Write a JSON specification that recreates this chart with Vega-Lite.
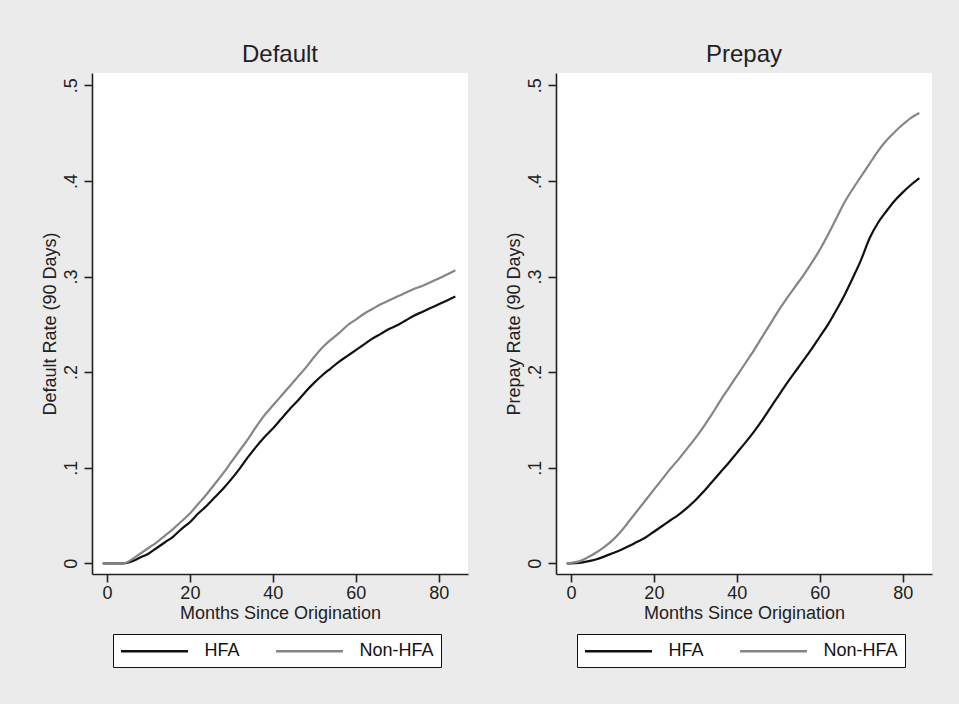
{
  "$schema": "https://vega.github.io/schema/vega-lite/v6.json",
  "background": "#ebebeb",
  "padding": {"left": 41, "top": 43, "right": 27, "bottom": 36},
  "spacing": 88,
  "bounds": "flush",
  "datasets": {
    "default": [
      {"month": -1, "HFA": 0, "Non-HFA": 0},
      {"month": 0, "HFA": 0, "Non-HFA": 0},
      {"month": 2, "HFA": 0, "Non-HFA": 0},
      {"month": 4, "HFA": 0, "Non-HFA": 0},
      {"month": 6, "HFA": 0.002, "Non-HFA": 0.004},
      {"month": 8, "HFA": 0.006, "Non-HFA": 0.010},
      {"month": 10, "HFA": 0.010, "Non-HFA": 0.016},
      {"month": 12, "HFA": 0.016, "Non-HFA": 0.022},
      {"month": 14, "HFA": 0.022, "Non-HFA": 0.029},
      {"month": 16, "HFA": 0.028, "Non-HFA": 0.036},
      {"month": 18, "HFA": 0.036, "Non-HFA": 0.044},
      {"month": 20, "HFA": 0.043, "Non-HFA": 0.052},
      {"month": 22, "HFA": 0.052, "Non-HFA": 0.062},
      {"month": 24, "HFA": 0.060, "Non-HFA": 0.072},
      {"month": 26, "HFA": 0.069, "Non-HFA": 0.083},
      {"month": 28, "HFA": 0.078, "Non-HFA": 0.094},
      {"month": 30, "HFA": 0.088, "Non-HFA": 0.106},
      {"month": 32, "HFA": 0.099, "Non-HFA": 0.118},
      {"month": 34, "HFA": 0.111, "Non-HFA": 0.130},
      {"month": 36, "HFA": 0.122, "Non-HFA": 0.143},
      {"month": 38, "HFA": 0.132, "Non-HFA": 0.155},
      {"month": 40, "HFA": 0.141, "Non-HFA": 0.165},
      {"month": 42, "HFA": 0.151, "Non-HFA": 0.175},
      {"month": 44, "HFA": 0.161, "Non-HFA": 0.185},
      {"month": 46, "HFA": 0.170, "Non-HFA": 0.195},
      {"month": 48, "HFA": 0.180, "Non-HFA": 0.205},
      {"month": 50, "HFA": 0.189, "Non-HFA": 0.216},
      {"month": 52, "HFA": 0.197, "Non-HFA": 0.226},
      {"month": 54, "HFA": 0.204, "Non-HFA": 0.234},
      {"month": 56, "HFA": 0.211, "Non-HFA": 0.241},
      {"month": 58, "HFA": 0.217, "Non-HFA": 0.249},
      {"month": 60, "HFA": 0.223, "Non-HFA": 0.255},
      {"month": 62, "HFA": 0.229, "Non-HFA": 0.261},
      {"month": 64, "HFA": 0.235, "Non-HFA": 0.266},
      {"month": 66, "HFA": 0.240, "Non-HFA": 0.271},
      {"month": 68, "HFA": 0.245, "Non-HFA": 0.275},
      {"month": 70, "HFA": 0.249, "Non-HFA": 0.279},
      {"month": 72, "HFA": 0.254, "Non-HFA": 0.283},
      {"month": 74, "HFA": 0.259, "Non-HFA": 0.287},
      {"month": 76, "HFA": 0.263, "Non-HFA": 0.290},
      {"month": 78, "HFA": 0.267, "Non-HFA": 0.294},
      {"month": 80, "HFA": 0.271, "Non-HFA": 0.298},
      {"month": 82, "HFA": 0.275, "Non-HFA": 0.302},
      {"month": 84, "HFA": 0.279, "Non-HFA": 0.3065}
    ],
    "prepay": [
      {"month": -1, "HFA": 0, "Non-HFA": 0},
      {"month": 0, "HFA": 0, "Non-HFA": 0.0005},
      {"month": 2, "HFA": 0.0005, "Non-HFA": 0.002},
      {"month": 4, "HFA": 0.002, "Non-HFA": 0.006},
      {"month": 6, "HFA": 0.004, "Non-HFA": 0.011},
      {"month": 8, "HFA": 0.007, "Non-HFA": 0.017},
      {"month": 10, "HFA": 0.0105, "Non-HFA": 0.024},
      {"month": 12, "HFA": 0.014, "Non-HFA": 0.033},
      {"month": 14, "HFA": 0.018, "Non-HFA": 0.044},
      {"month": 16, "HFA": 0.0225, "Non-HFA": 0.055},
      {"month": 18, "HFA": 0.027, "Non-HFA": 0.066},
      {"month": 20, "HFA": 0.033, "Non-HFA": 0.077},
      {"month": 22, "HFA": 0.039, "Non-HFA": 0.088},
      {"month": 24, "HFA": 0.045, "Non-HFA": 0.099},
      {"month": 26, "HFA": 0.051, "Non-HFA": 0.109},
      {"month": 28, "HFA": 0.058, "Non-HFA": 0.120},
      {"month": 30, "HFA": 0.066, "Non-HFA": 0.131},
      {"month": 32, "HFA": 0.075, "Non-HFA": 0.143},
      {"month": 34, "HFA": 0.085, "Non-HFA": 0.156},
      {"month": 36, "HFA": 0.095, "Non-HFA": 0.170},
      {"month": 38, "HFA": 0.105, "Non-HFA": 0.183},
      {"month": 40, "HFA": 0.1155, "Non-HFA": 0.196},
      {"month": 42, "HFA": 0.126, "Non-HFA": 0.209},
      {"month": 44, "HFA": 0.137, "Non-HFA": 0.222},
      {"month": 46, "HFA": 0.149, "Non-HFA": 0.236},
      {"month": 48, "HFA": 0.162, "Non-HFA": 0.250},
      {"month": 50, "HFA": 0.175, "Non-HFA": 0.264},
      {"month": 52, "HFA": 0.188, "Non-HFA": 0.277},
      {"month": 54, "HFA": 0.200, "Non-HFA": 0.289},
      {"month": 56, "HFA": 0.212, "Non-HFA": 0.301},
      {"month": 58, "HFA": 0.224, "Non-HFA": 0.314},
      {"month": 60, "HFA": 0.237, "Non-HFA": 0.328},
      {"month": 62, "HFA": 0.250, "Non-HFA": 0.344},
      {"month": 64, "HFA": 0.265, "Non-HFA": 0.361},
      {"month": 66, "HFA": 0.281, "Non-HFA": 0.378},
      {"month": 68, "HFA": 0.299, "Non-HFA": 0.392},
      {"month": 70, "HFA": 0.318, "Non-HFA": 0.405},
      {"month": 72, "HFA": 0.340, "Non-HFA": 0.418},
      {"month": 74, "HFA": 0.356, "Non-HFA": 0.431},
      {"month": 76, "HFA": 0.368, "Non-HFA": 0.442},
      {"month": 78, "HFA": 0.379, "Non-HFA": 0.451},
      {"month": 80, "HFA": 0.388, "Non-HFA": 0.459},
      {"month": 82, "HFA": 0.396, "Non-HFA": 0.466},
      {"month": 84, "HFA": 0.403, "Non-HFA": 0.471}
    ]
  },
  "resolve": {"legend": {"color": "independent"}},
  "hconcat": [
    {
      "title": "Default",
      "width": 376,
      "height": 501,
      "data": {"name": "default"},
      "transform": [{"fold": ["HFA", "Non-HFA"], "as": ["group", "rate"]}],
      "mark": {"type": "line", "strokeWidth": 2.2, "interpolate": "monotone"},
      "encoding": {
        "x": {"field": "month", "type": "quantitative", "scale": {"domain": [-3.6, 87.05], "nice": false, "zero": false}, "axis": {"values": [0, 20, 40, 60, 80], "title": "Months Since Origination"}},
        "y": {"field": "rate", "type": "quantitative", "scale": {"domain": [-0.0112, 0.5129], "nice": false, "zero": false}, "axis": {"values": [0, 0.1, 0.2, 0.3, 0.4, 0.5], "title": "Default Rate (90 Days)", "labelExpr": "datum.value == 0 ? '0' : replace(format(datum.value, '.1f'), '0.', '.')"}},
        "color": {"field": "group", "type": "nominal", "scale": {"domain": ["HFA", "Non-HFA"], "range": ["#111111", "#858585"]}, "legend": {"orient": "none", "legendX": 21, "legendY": 561, "direction": "horizontal", "title": null}}
      }
    },
    {
      "title": "Prepay",
      "width": 376,
      "height": 501,
      "data": {"name": "prepay"},
      "transform": [{"fold": ["HFA", "Non-HFA"], "as": ["group", "rate"]}],
      "mark": {"type": "line", "strokeWidth": 2.2, "interpolate": "monotone"},
      "encoding": {
        "x": {"field": "month", "type": "quantitative", "scale": {"domain": [-3.6, 87.05], "nice": false, "zero": false}, "axis": {"values": [0, 20, 40, 60, 80], "title": "Months Since Origination"}},
        "y": {"field": "rate", "type": "quantitative", "scale": {"domain": [-0.0112, 0.5129], "nice": false, "zero": false}, "axis": {"values": [0, 0.1, 0.2, 0.3, 0.4, 0.5], "title": "Prepay Rate (90 Days)", "labelExpr": "datum.value == 0 ? '0' : replace(format(datum.value, '.1f'), '0.', '.')"}},
        "color": {"field": "group", "type": "nominal", "scale": {"domain": ["HFA", "Non-HFA"], "range": ["#111111", "#858585"]}, "legend": {"orient": "none", "legendX": 21, "legendY": 561, "direction": "horizontal", "title": null}}
      }
    }
  ],
  "config": {
    "view": {"stroke": null, "fill": "white"},
    "axis": {"domainColor": "#222222", "domainWidth": 1.6, "tickColor": "#222222", "tickWidth": 1.6, "tickSize": 8, "grid": false, "labelFont": "Liberation Sans", "titleFont": "Liberation Sans", "labelFontSize": 18, "titleFontSize": 18, "labelColor": "#222222", "titleColor": "#222222", "titleFontWeight": "normal"},
    "axisX": {"labelPadding": 2, "titlePadding": 2},
    "axisY": {"labelAngle": 270, "labelAlign": "center", "labelBaseline": "alphabetic", "labelPadding": 8, "titlePadding": 3},
    "title": {"font": "Liberation Sans", "fontSize": 24, "fontWeight": "normal", "color": "#222222", "baseline": "alphabetic", "offset": 6},
    "legend": {"symbolType": "M-1,0H6.444", "symbolSize": 324, "symbolStrokeWidth": 2.5, "labelFont": "Liberation Sans", "labelFontSize": 18, "labelColor": "#111111", "labelOffset": 64, "columnPadding": 30, "padding": 6.5, "strokeColor": "#111111", "fillColor": "white", "cornerRadius": 0}
  }
}
